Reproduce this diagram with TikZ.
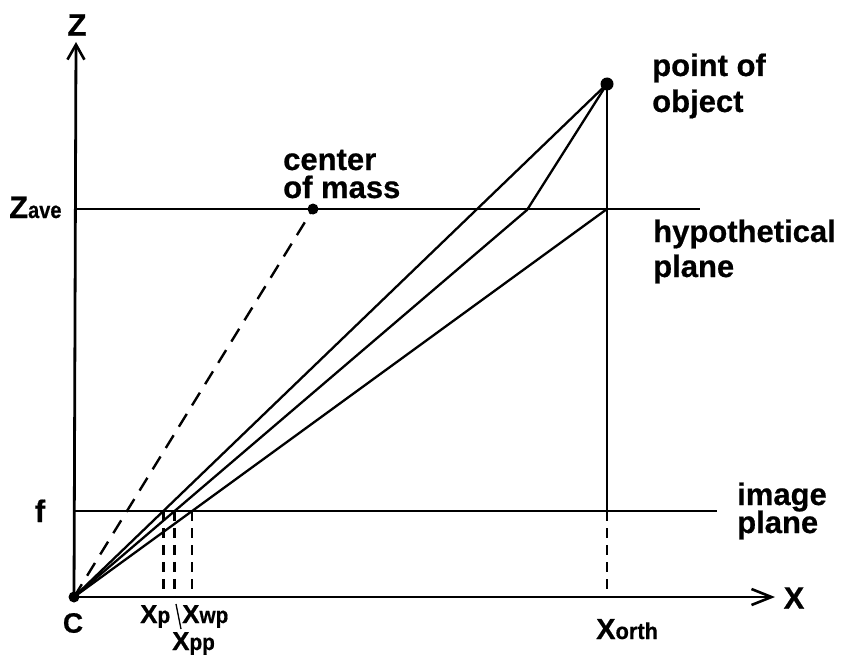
\documentclass[tikz,border=0pt]{standalone}
\usepackage{fontspec}
\usepackage{graphicx}
\setmainfont{Liberation Sans}[BoldFeatures={FakeBold=0.6}]
\usetikzlibrary{arrows.meta,calc}
\newcommand\smallsub[2][0.87]{{\fontsize{23}{23}\selectfont\scalebox{#1}[1]{#2}}}
\newcommand\tinysub[1]{{\fontsize{23}{23}\selectfont\scalebox{0.9}[1]{#1}}}
\begin{document}
\begin{tikzpicture}[x=1pt,y=-1pt,
  lab/.style={font=\bfseries\fontsize{31}{31}\selectfont, inner sep=0pt},
  smalllab/.style={font=\bfseries\fontsize{26}{26}\selectfont, inner sep=0pt},
  axis/.style={line width=2.8pt},
  ray/.style={line width=2.3pt},
  planeline/.style={line width=2.6pt},
  dashray/.style={line width=2.4pt, dash pattern=on 15pt off 10pt},
  dashdrop/.style={line width=2.4pt, dash pattern=on 10pt off 7pt},
  dot/.style={circle, fill=black, inner sep=0pt, minimum size=#1},
  barb/.style={-{Straight Barb[length=15pt,width=17pt,line width=2.6pt]}}
]
\useasboundingbox (0,0) rectangle (842,658);
% key points
\node[dot=11pt] (C) at (74,597) {};
\coordinate (Ztip) at (76,42);
\coordinate (Xtip) at (775,597);
\node[dot=13pt] (P) at (607,84) {};
\coordinate (H) at (607,209);
\coordinate (K) at (527,210);
\node[dot=11pt] (M) at (313,209) {};
\coordinate (Zl) at (74,209);
\coordinate (Zr) at (700,209);
\coordinate (Fl) at (74,511);
\coordinate (Fr) at (717,511);
\coordinate (PF) at (607,511);
\coordinate (PX) at (607,597);
% axes
\draw[axis, barb] (C.center) -- (Ztip);
\draw[axis, -{Straight Barb[length=20pt,width=16pt,line width=2.6pt]}] (C.center) -- (Xtip);
% planes
\draw[planeline] (Zl) -- (Zr);
\draw[planeline] (Fl) -- (Fr);
% vertical through object point
\draw[ray] (P.center) -- (PF);
\draw[dashdrop] (PF) -- (PX);
% rays
\draw[ray] (C.center) -- (P.center);
\draw[ray] (C.center) -- (K) -- (P.center);
\draw[ray] (C.center) -- (H);
\draw[dashray] (C.center) -- (M.center);
% image plane intersections
\coordinate (xp) at (intersection of C--P and Fl--Fr);
\coordinate (xpp) at (intersection of C--K and Fl--Fr);
\coordinate (xwp) at (intersection of C--H and Fl--Fr);
\draw[dashdrop] (xp) -- (xp |- C);
\draw[dashdrop] (xpp) -- (xpp |- C);
\draw[dashdrop] (xwp) -- (xwp |- C);
% labels
\node[lab] (Zlab) at (77,25) {Z};
\node[lab, anchor=base west] (Zavelab) at (9,218) {Z\smallsub{ave}};
\node[lab, anchor=base] (flab) at (40,522) {f};
\node[lab, font=\bfseries\fontsize{28}{28}\selectfont] (Clab) at (73,623) {C};
\node[lab] (Xlab) at (794,598) {X};
\node[lab, font=\bfseries\fontsize{29}{29}\selectfont, anchor=base west] (Xorthlab) at (596,639) {X\smallsub[0.95]{orth}};
\node[smalllab, anchor=base west] (Xplab) at (140,623) {X\tinysub{p}};
\node[smalllab, anchor=base west] (Xwplab) at (182,623) {X\tinysub{wp}};
\node[smalllab, anchor=base west] (Xpplab) at (172,650) {X\tinysub{pp}};
\coordinate (sl1) at (176,604);
\coordinate (sl2) at (181,629);
\draw[line width=1.3pt] (sl1) -- (sl2);
\node[lab, anchor=base west] (po1) at (652,76) {point of};
\node[lab, anchor=base west] (po2) at (652,112) {object};
\node[lab, anchor=base west] (hp1) at (653,242) {hypothetical};
\node[lab, anchor=base west] (hp2) at (653,277) {plane};
\node[lab, anchor=base west] (cm1) at (283,170) {center};
\node[lab, anchor=base west] (cm2) at (283,198) {of mass};
\node[lab, anchor=base west] (ip1) at (737,505) {image};
\node[lab, anchor=base west] (ip2) at (737,533) {plane};
\end{tikzpicture}
\end{document}
